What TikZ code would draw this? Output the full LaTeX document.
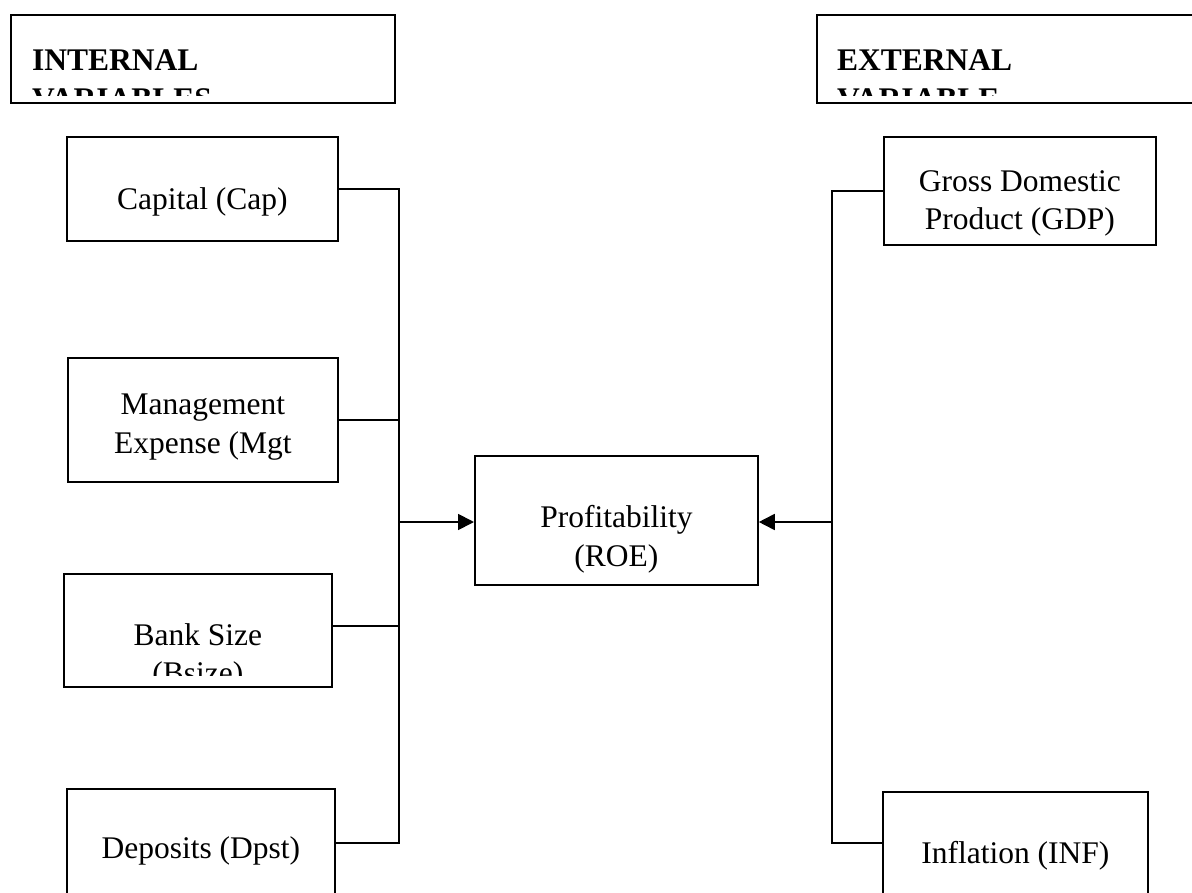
\documentclass[tikz,border=0pt]{standalone}
\usepackage{fontspec}
\setmainfont{Liberation Serif}
\usetikzlibrary{arrows.meta}

\begin{document}
\begin{tikzpicture}%
        [x={(1pt, 0pt)},
        y={(0pt, -1pt)},
        varbox/.style={draw, line width=1.8pt, inner sep=0pt, anchor=north west},
        vartext/.style={anchor=base, align=center, inner sep=0pt, font=\fontsize{31.5}{38.5}\selectfont},
        headtext/.style={anchor=base west, align=left, inner sep=0pt, font=\fontsize{31.5}{38.5}\selectfont\bfseries},
        link/.style={line width=1.8pt},
        arrow/.style={line width=1.8pt, -{Triangle[length=16pt, width=16pt]}}]

    %% Page frame
    \clip (0,0) rectangle (1192,893);
    \fill[white] (0,0) rectangle (1192,893);
    %%
    %% Drawing the headings
    %%
    \node[varbox, minimum width=384pt, minimum height=88pt] (intbox) at (10,14) {};
    \node[varbox, minimum width=420pt, minimum height=88pt] (extbox) at (816,14) {};
    \begin{scope}
        \clip (10,14) rectangle (394,96);
        \node[headtext] (inttxt) at (32,109.5) {INTERNAL\\VARIABLES};
    \end{scope}
    \begin{scope}
        \clip (816,14) rectangle (1192,96);
        \node[headtext] (exttxt) at (837,109.5) {EXTERNAL\\VARIABLE};
    \end{scope}
    %%
    %% Drawing the variables
    %%
    \node[varbox, minimum width=271pt, minimum height=104pt] (cap) at (66,136) {};
    \node[varbox, minimum width=270pt, minimum height=124pt] (mgt) at (67,357) {};
    \node[varbox, minimum width=268pt, minimum height=113pt] (bsize) at (63,573) {};
    \node[varbox, minimum width=268pt, minimum height=140pt] (dpst) at (66,788) {};
    \node[varbox, minimum width=272pt, minimum height=108pt] (gdp) at (883,136) {};
    \node[varbox, minimum width=265pt, minimum height=140pt] (inf) at (882,791) {};
    \node[varbox, minimum width=283pt, minimum height=129pt] (roe) at (474,455) {};

    \node[vartext] (captxt) at ([yshift=-74pt]cap.north) {Capital (Cap)};
    \node[vartext] (mgttxt) at ([yshift=-96pt]mgt.north) {Management\\Expense (Mgt};
    \begin{scope}
        \clip (63,573) rectangle (331,675);
        \node[vartext] (bsizetxt) at ([yshift=-110.5pt]bsize.north) {Bank Size\\(Bsize)};
    \end{scope}
    \node[vartext] (dpsttxt) at ([yshift=-70pt]dpst.north) {Deposits (Dpst)};
    \node[vartext] (gdptxt) at ([yshift=-94pt]gdp.north) {Gross Domestic\\Product (GDP)};
    \node[vartext] (inftxt) at ([yshift=-72pt]inf.north) {Inflation (INF)};
    \node[vartext] (roetxt) at ([yshift=-111pt]roe.north) {Profitability\\(ROE)};
    %%
    %% Drawing the links
    %%
    \coordinate (lbus) at (399,522);
    \coordinate (rbus) at (832,522);
    \draw[link] (cap.east) -| (lbus);
    \draw[link] (mgt.east) -- (mgt.east -| lbus);
    \draw[link] ([yshift=4.5pt]bsize.east) -- ([yshift=4.5pt]bsize.east -| lbus);
    \draw[link] ([yshift=-55pt]dpst.north east) -| (lbus);
    \draw[link] (gdp.west) -| (rbus);
    \draw[link] ([yshift=-52pt]inf.north west) -| (rbus);
    \draw[arrow] (lbus) -- (lbus -| roe.west);
    \draw[arrow] (rbus) -- (rbus -| roe.east);
    %%
    %%
\end{tikzpicture}
\end{document}
